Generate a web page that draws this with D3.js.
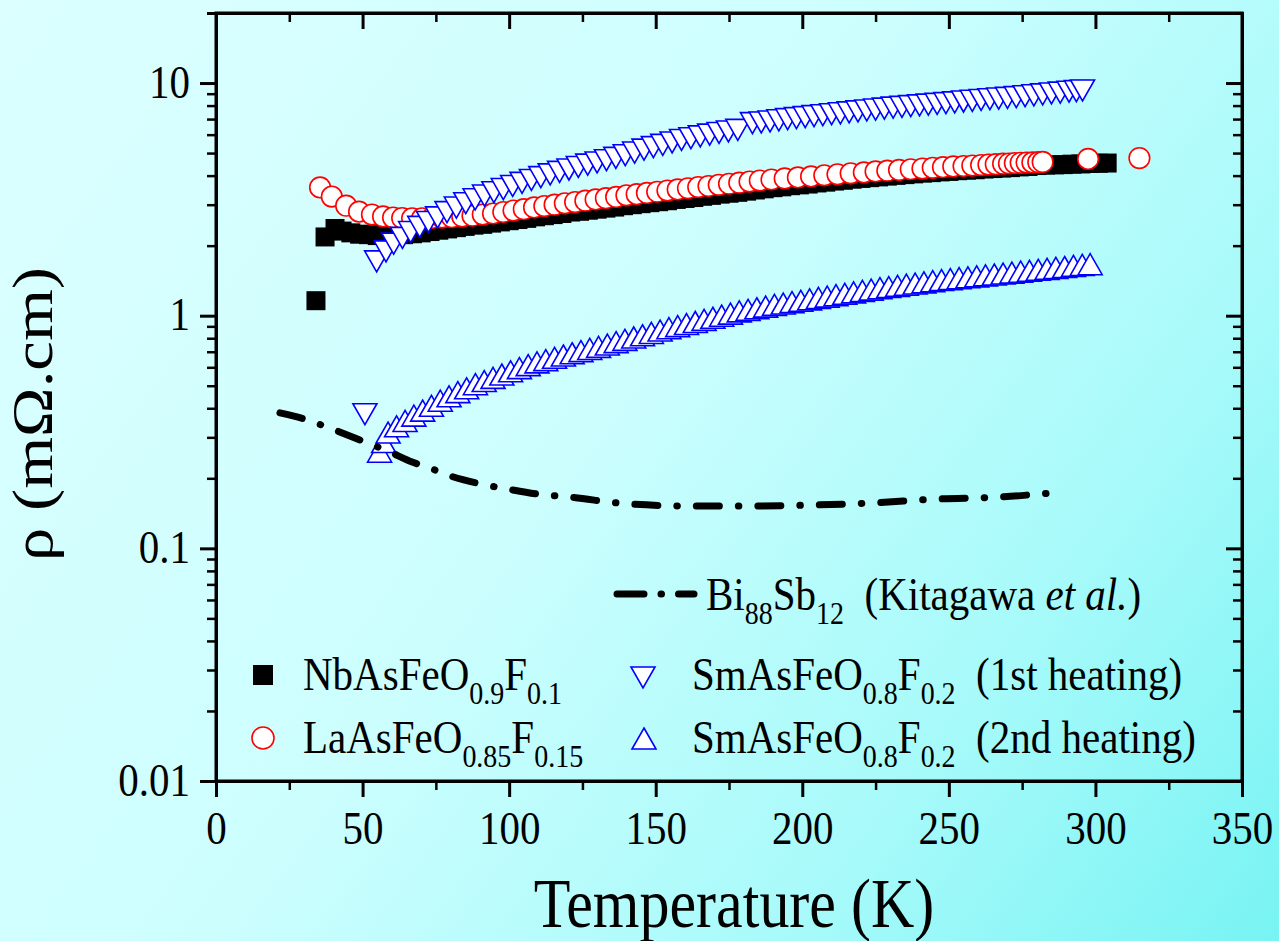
<!DOCTYPE html>
<html><head><meta charset="utf-8">
<script src="https://cdn.jsdelivr.net/npm/d3@7"></script>
<style>
html,body{margin:0;padding:0;background:#d8ffff;}
svg{display:block;}
text{font-family:"Liberation Serif","Times New Roman",serif;fill:#000;}
</style></head>
<body>
<svg id="chart" width="1279" height="941"></svg>
<script>
// ---------------- data ----------------
const xTicks = [0, 50, 100, 150, 200, 250, 300, 350];
const xMinorTicks = [25, 75, 125, 175, 225, 275, 325];
const yTicks = [0.01, 0.1, 1, 10];
const yTickLabels = ["0.01", "0.1", "1", "10"];
const yMinorTicks = [0.02,0.03,0.04,0.05,0.06,0.07,0.08,0.09,0.2,0.3,0.4,0.5,0.6,0.7,0.8,0.9,2,3,4,5,6,7,8,9,20];

// NbAsFeO0.9F0.1 (black squares)
const nbT = [34.1,37.2,40.6,43,46,49,52,55,58,61,64,67,70,73,76,79,82,85,88,91,94,97,100,103,106,109,112,115,118,121,124,127,130,133,136,139,142,145,148,151,154,157,160,163,166,169,172,175,178,181,184,187,190,193,196,199,202,205,208,211,214,217,220,223,226,229,232,235,238,241,244,247,250,253,256,259,262,265,268,271,274,277,280,283,286,289,292,295,298,301,304];
const nbRho = [1.16,2.18,2.37,2.31,2.27,2.24,2.23,2.21,2.21,2.21,2.23,2.25,2.27,2.30,2.33,2.36,2.39,2.42,2.45,2.47,2.50,2.53,2.56,2.59,2.62,2.66,2.69,2.72,2.75,2.79,2.81,2.84,2.87,2.90,2.93,2.97,3.00,3.03,3.06,3.09,3.12,3.16,3.19,3.22,3.26,3.29,3.33,3.36,3.39,3.43,3.47,3.51,3.55,3.58,3.62,3.65,3.68,3.72,3.75,3.79,3.82,3.86,3.89,3.92,3.95,3.98,4.01,4.04,4.07,4.10,4.12,4.15,4.17,4.20,4.22,4.24,4.27,4.29,4.31,4.33,4.36,4.38,4.42,4.44,4.45,4.46,4.48,4.49,4.51,4.52,4.53];

// LaAsFeO0.85F0.15 (red circles)
const laT = [35.5,39.5,44.4,48.8,53.2,57,60.4,63.5,66.9,70.3,73.7,77.1,80.5,84,87.5,91,94.5,98,101.5,105,108.5,112,115.5,119,122.5,126,129.5,133,136.5,140,143.5,147,150.5,154,157.5,161,164.5,168,171.5,175,178.5,182,185.5,189.5,194,198.5,203,207.5,212,216.5,221,225,229,233,237,241,244.5,248,251.5,255,258,261,263.5,266,268.5,270.5,272.5,274.5,276.5,278.5,280.5,282,297.5,315];
const laRho = [3.56,3.25,2.97,2.80,2.72,2.67,2.64,2.63,2.62,2.62,2.63,2.64,2.65,2.67,2.69,2.72,2.75,2.79,2.83,2.87,2.92,2.96,3.00,3.04,3.08,3.12,3.16,3.20,3.24,3.29,3.33,3.37,3.41,3.45,3.49,3.53,3.57,3.61,3.65,3.69,3.73,3.77,3.81,3.85,3.89,3.93,3.97,4.01,4.05,4.09,4.13,4.17,4.20,4.23,4.26,4.29,4.32,4.35,4.38,4.40,4.42,4.44,4.46,4.48,4.50,4.51,4.53,4.54,4.55,4.56,4.57,4.58,4.72,4.76];

// SmAsFeO0.8F0.2 1st heating (blue down triangles)
const sm1T = [50.8,54.8,58,60.6,63.6,66.4,69.5,72.5,75.6,78.8,82,85.2,88.4,91.6,94.8,98,101.2,104.4,107.6,110.8,114,117.2,120.4,123.6,126.8,130,133.2,136.4,139.6,142.8,146,149.2,152.4,155.6,158.8,162,165.2,168.4,171.6,174.8,178,183,186,189,192,195,198,201,204,207,210,213,216,219,222,225,228,231,234,237,240,243,246,249,252,255,258,261,264,267,270,273,276,279,282,285,288,291,293.5,295.6];
const sm1Rho = [0.379,1.72,1.90,2.05,2.17,2.30,2.42,2.54,2.66,2.80,2.93,3.06,3.18,3.30,3.41,3.52,3.63,3.74,3.85,3.96,4.07,4.17,4.27,4.38,4.48,4.58,4.68,4.79,4.92,5.05,5.20,5.33,5.45,5.58,5.72,5.82,5.93,6.03,6.13,6.22,6.32,6.76,6.80,6.87,6.95,7.03,7.10,7.17,7.24,7.31,7.38,7.45,7.52,7.59,7.66,7.73,7.80,7.88,7.94,8.00,8.06,8.12,8.18,8.24,8.30,8.37,8.43,8.50,8.56,8.62,8.68,8.74,8.82,8.90,8.98,9.06,9.14,9.22,9.28,9.34];

// SmAsFeO0.8F0.2 2nd heating (blue up triangles)
const sm2T = [55.8,57.2,58.7,61.6,64.5,67.5,70.5,73.5,76.5,79.5,82.5,85.5,88.5,91.5,94.5,97.5,100.5,103.5,106.5,109.5,112.5,115.5,118.5,121.5,124.5,127.5,130.5,133.5,136.5,139.5,142.5,145.5,148.5,151.5,154.5,157.5,160.5,163.5,166.5,169.5,172.5,175.5,178.5,181.5,184.5,187.5,190.5,193.5,196.5,199.5,202.5,205.5,208.5,211.5,214.5,217.5,220.5,223.5,226.5,229.5,232.5,235.5,238.5,241.5,244.5,247.5,250.5,253.5,256.5,259.5,262.5,265.5,268.5,271.5,274.5,277.5,280.5,283.5,286.5,289.5,292.5,295.5,298.2];
const sm2Rho = [0.259,0.285,0.313,0.333,0.351,0.370,0.389,0.408,0.429,0.448,0.467,0.485,0.505,0.521,0.538,0.556,0.574,0.592,0.610,0.627,0.641,0.656,0.671,0.686,0.701,0.716,0.731,0.748,0.766,0.783,0.802,0.820,0.839,0.859,0.879,0.897,0.916,0.935,0.955,0.975,0.995,1.016,1.038,1.054,1.071,1.089,1.107,1.122,1.138,1.153,1.169,1.186,1.202,1.219,1.236,1.253,1.271,1.288,1.306,1.321,1.337,1.352,1.368,1.384,1.400,1.416,1.429,1.442,1.455,1.469,1.483,1.496,1.510,1.524,1.538,1.552,1.567,1.581,1.596,1.611,1.629,1.644,1.656];

// Bi88Sb12 (Kitagawa et al.) dash-dot line
const biT = [21.8,30,36.8,47.4,52.2,58,66.9,72.7,78.8,90.4,99.3,109.9,120.8,141.2,162.7,182.5,204,223.5,246,266.8,288.3];
const biRho = [0.382,0.360,0.336,0.298,0.282,0.264,0.235,0.222,0.207,0.189,0.180,0.171,0.166,0.155,0.152,0.152,0.1536,0.1567,0.163,0.166,0.1747];

// ---------------- drawing ----------------
const W = 1279, H = 941;
const L = 216, R = 1242, T = 13, B = 781;
const SY = 1.15;               // vertical stretch of the lettering
const svg = d3.select("#chart");

const defs = svg.append("defs");
const grad = defs.append("linearGradient").attr("id","bg")
  .attr("gradientUnits","userSpaceOnUse")
  .attr("x1",0).attr("y1",0).attr("x2",W).attr("y2",H);
grad.append("stop").attr("offset","0%").attr("stop-color","#dcffff");
grad.append("stop").attr("offset","45%").attr("stop-color","#cdfefe");
grad.append("stop").attr("offset","75%").attr("stop-color","#a8fafa");
grad.append("stop").attr("offset","100%").attr("stop-color","#78f3f3");
svg.append("rect").attr("width",W).attr("height",H).attr("fill","url(#bg)");

const x = d3.scaleLinear().domain([0,350]).range([L,R]);
const y = d3.scaleLog().domain([0.01,20]).range([B,T]);

function styleAxis(g, w){
  g.select(".domain").attr("stroke","#000").attr("stroke-width",3);
  g.selectAll(".tick line").attr("stroke","#000").attr("stroke-width",w);
  g.selectAll(".tick text").attr("font-size",41).attr("fill","#000");
}

// bottom axis
const gxMinor = svg.append("g").attr("transform",`translate(0,${B})`)
  .call(d3.axisBottom(x).tickValues(xMinorTicks).tickSize(9).tickFormat(""));
styleAxis(gxMinor,2.5);
const gx = svg.append("g").attr("transform",`translate(0,${B})`)
  .call(d3.axisBottom(x).tickValues(xTicks).tickSize(16).tickSizeOuter(0).tickFormat(d3.format("d")));
styleAxis(gx,3);
gx.selectAll(".tick text").attr("y",0).attr("dy",0)
  .attr("transform",`translate(0,63) scale(1,${SY})`);
// top axis (ticks inward)
const gtMinor = svg.append("g").attr("transform",`translate(0,${T})`)
  .call(d3.axisBottom(x).tickValues(xMinorTicks).tickSize(9).tickFormat(""));
styleAxis(gtMinor,2.5);
const gt = svg.append("g").attr("transform",`translate(0,${T})`)
  .call(d3.axisBottom(x).tickValues(xTicks).tickSize(16).tickSizeOuter(0).tickFormat(""));
styleAxis(gt,3);

// left axis
const gyMinor = svg.append("g").attr("transform",`translate(${L},0)`)
  .call(d3.axisLeft(y).tickValues(yMinorTicks).tickSize(9).tickFormat(""));
styleAxis(gyMinor,2.5);
const gy = svg.append("g").attr("transform",`translate(${L},0)`)
  .call(d3.axisLeft(y).tickValues(yTicks).tickSize(16).tickPadding(10).tickSizeOuter(0)
    .tickFormat((d,i)=>yTickLabels[i]));
styleAxis(gy,3);
gy.selectAll(".tick text").attr("dy","0.3em").attr("transform",`scale(1,${SY})`);
// right axis (ticks inward)
const grMinor = svg.append("g").attr("transform",`translate(${R},0)`)
  .call(d3.axisLeft(y).tickValues(yMinorTicks).tickSize(9).tickFormat(""));
styleAxis(grMinor,2.5);
const gr = svg.append("g").attr("transform",`translate(${R},0)`)
  .call(d3.axisLeft(y).tickValues(yTicks).tickSize(16).tickSizeOuter(0).tickFormat(""));
styleAxis(gr,3);

// frame
svg.append("rect").attr("x",L).attr("y",T).attr("width",R-L).attr("height",B-T)
  .attr("fill","none").attr("stroke","#000").attr("stroke-width",3);

// axis titles
svg.append("text").attr("transform",`translate(${(L+R)/2 + 5},927) scale(1,${SY})`)
  .attr("text-anchor","middle").attr("font-size",60).text("Temperature (K)");
svg.append("text").attr("transform",`translate(52,414) scale(1,${SY}) rotate(-90)`)
  .attr("text-anchor","middle").attr("font-size",58).text("ρ (mΩ.cm)");

// markers
const downTri = "M-12,-10L12,-10L0,11Z";
const upTri = "M0,-11L12,10L-12,10Z";
const plot = svg.append("g");

const nb = nbT.map((t,i)=>({t, r: nbRho[i]}));
const la = laT.map((t,i)=>({t, r: laRho[i]}));
const sm1 = sm1T.map((t,i)=>({t, r: sm1Rho[i]}));
const sm2 = sm2T.map((t,i)=>({t, r: sm2Rho[i]}));
const bi = biT.map((t,i)=>({t, r: biRho[i]}));

const S = 19;
plot.selectAll(".nb").data(nb).join("rect")
  .attr("x",d=>x(d.t)-S/2).attr("y",d=>y(d.r)-S/2).attr("width",S).attr("height",S).attr("fill","#000");
plot.selectAll(".la").data(la).join("circle")
  .attr("cx",d=>x(d.t)).attr("cy",d=>y(d.r)).attr("r",10.3)
  .attr("fill","#fff").attr("stroke","#ff0000").attr("stroke-width",1.6);
plot.selectAll(".sm1").data(sm1).join("path")
  .attr("d",downTri).attr("transform",d=>`translate(${x(d.t)},${y(d.r)})`)
  .attr("fill","#fff").attr("stroke","#0000ff").attr("stroke-width",1.6);
plot.selectAll(".sm2").data(sm2).join("path")
  .attr("d",upTri).attr("transform",d=>`translate(${x(d.t)},${y(d.r)})`)
  .attr("fill","#fff").attr("stroke","#0000ff").attr("stroke-width",1.6);

const line = d3.line().x(d=>x(d.t)).y(d=>y(d.r)).curve(d3.curveMonotoneX);
plot.append("path").datum(bi).attr("d",line).attr("fill","none")
  .attr("stroke","#000").attr("stroke-width",7).attr("stroke-linecap","round")
  .attr("stroke-dasharray","23,19,0.5,19");

// ---------------- legend ----------------
function rich(g, xPos, yPos, parts){
  const t = g.append("text").attr("transform",`translate(${xPos},${yPos}) scale(1,${SY})`)
    .attr("font-size",41);
  parts.forEach(p=>{
    const s = t.append("tspan").text(p.t);
    if(p.sub){ s.attr("font-size",28).attr("dy",12); }
    else if(p.after){ s.attr("dy",-12); }
    if(p.it) s.attr("font-style","italic");
  });
  return t;
}
const lg = svg.append("g");
lg.append("path").attr("d",`M617,594L694,594`).attr("stroke","#000").attr("stroke-width",7)
  .attr("stroke-linecap","round").attr("stroke-dasharray","27,17,0.5,17").attr("fill","none");
rich(lg,706,610,[{t:"Bi"},{t:"88",sub:true},{t:"Sb",after:true},{t:"12",sub:true},{t:"\u00a0\u00a0(Kitagawa ",after:true},{t:"et al.",it:true},{t:")"}]);

lg.append("rect").attr("x",263-10).attr("y",675-10).attr("width",20).attr("height",20).attr("fill","#000");
rich(lg,303,690,[{t:"NbAsFeO"},{t:"0.9",sub:true},{t:"F",after:true},{t:"0.1",sub:true}]);

lg.append("circle").attr("cx",263).attr("cy",738).attr("r",11).attr("fill","#fff").attr("stroke","#ff0000").attr("stroke-width",1.6);
rich(lg,303,753,[{t:"LaAsFeO"},{t:"0.85",sub:true},{t:"F",after:true},{t:"0.15",sub:true}]);

lg.append("path").attr("d",downTri).attr("transform","translate(643,677)").attr("fill","#fff").attr("stroke","#0000ff").attr("stroke-width",1.6);
rich(lg,692,690,[{t:"SmAsFeO"},{t:"0.8",sub:true},{t:"F",after:true},{t:"0.2",sub:true},{t:"\u00a0\u00a0(1st heating)",after:true}]);

lg.append("path").attr("d",upTri).attr("transform","translate(644,739)").attr("fill","#fff").attr("stroke","#0000ff").attr("stroke-width",1.6);
rich(lg,692,753,[{t:"SmAsFeO"},{t:"0.8",sub:true},{t:"F",after:true},{t:"0.2",sub:true},{t:"\u00a0\u00a0(2nd heating)",after:true}]);
</script>
</body></html>
